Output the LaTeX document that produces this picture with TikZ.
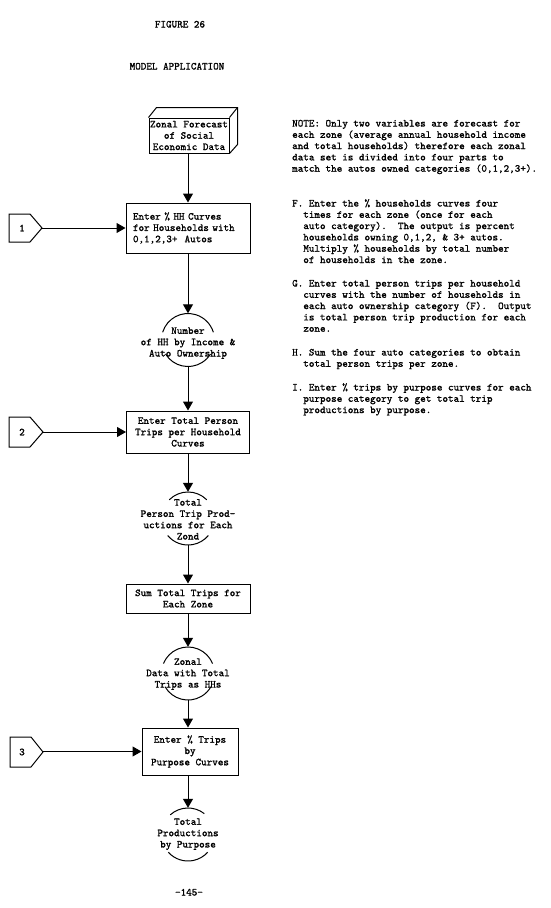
\documentclass[tikz,border=0pt]{standalone}
\usepackage{fontspec}
\setmonofont{Latin Modern Mono}[RawFeature={embolden=1.2}]
\usetikzlibrary{arrows.meta,calc}
\frenchspacing
\newcommand\hin{\hphantom{MM}}
\begin{document}
\begin{tikzpicture}[x=1pt,y=-1pt,
  every node/.style={font=\ttfamily\fontsize{10.6}{11.3}\selectfont, inner sep=0pt},
  ln/.style={line width=1pt, black},
  arr/.style={ln, -{Triangle[length=9pt,width=10pt]}},
  box/.style={draw, line width=1pt, inner sep=0pt},
  circ/.style={circle, minimum size=53pt, inner sep=0pt},
  txt/.style={anchor=base west, align=left},
]
\fill[white] (0,0) rectangle (550,908);
\useasboundingbox (0,0) rectangle (550,908);

% titles
\node[anchor=base] (t1) at (180,27.5) {FIGURE 26};
\node[anchor=base] (t2) at (177,69.5) {MODEL APPLICATION};

% 3D box
\node[box, minimum width=80pt, minimum height=35pt, align=center] (z) at (189,135.5) {Zonal Forecast\\of Social\\Economic Data};
\draw[ln] (z.north west) -- ++(8,-10) -- ($(z.north east)+(8,-10)$) -- ($(z.south east)+(8,-9)$) -- (z.south east);
\draw[ln] (z.north east) -- ++(8,-10);

% boxes
\node[box, minimum width=124pt, minimum height=50pt, text width=110pt, align=left] (b1) at (188,228) {Enter \% HH Curves\\for Households with\\0,1,2,3+~ Autos};
\node[box, minimum width=123pt, minimum height=42pt, align=center] (b2) at (188,432) {Enter Total Person\\Trips per Household\\Curves};
\node[box, minimum width=124pt, minimum height=29pt, align=center] (b3) at (188,598.5) {Sum Total Trips for\\Each Zone};
\node[box, minimum width=96pt, minimum height=47pt, align=center] (b4) at (190,751.5) {Enter \% Trips\\by\\Purpose Curves};

% circles (text node base = last line)
\node[circ] (c1) at (188,340) {};
\node[align=center, anchor=base] (c1t) at (188,356.5) {Number\\of HH by Income \&\\Auto Ownership};
\draw[ln] ($(c1)+(163:26.5pt)$) arc[start angle=163, end angle=17, radius=26.5pt];
\draw[ln] ($(c1)+(212:26.5pt)$) arc[start angle=212, end angle=328, radius=26.5pt];

\node[circ] (c2) at (188,518.5) {};
\node[align=center, anchor=base] (c2t) at (188,539.5) {Total\\Person Trip Prod-\\uctions for Each\\Zond};
\draw[ln] ($(c2)+(135:26.5pt)$) arc[start angle=135, end angle=45, radius=26.5pt];
\draw[ln] ($(c2)+(220:26.5pt)$) arc[start angle=220, end angle=320, radius=26.5pt];

\node[circ] (c3) at (188,673.5) {};
\node[align=center, anchor=base] (c3t) at (188,687.5) {Zonal\\Data with Total\\Trips as HHs};
\draw[ln] ($(c3)+(158:26.5pt)$) arc[start angle=158, end angle=22, radius=26.5pt];
\draw[ln] ($(c3)+(210:26.5pt)$) arc[start angle=210, end angle=330, radius=26.5pt];

\node[circ] (c4) at (188,834.5) {};
\node[align=center, anchor=base] (c4t) at (188,847.5) {Total\\Productions\\by Purpose};
\draw[ln] ($(c4)+(132:26.5pt)$) arc[start angle=132, end angle=52, radius=26.5pt];
\draw[ln] ($(c4)+(222:26.5pt)$) arc[start angle=222, end angle=318, radius=26.5pt];

% pentagons
\draw[ln] (9,214) -- (30,214) -- (42,228) -- (30,242) -- (9,242) -- cycle;
\node (p1) at (22,228) {1};
\coordinate (p1t) at (42,228);
\draw[ln] (9,417) -- (30,417) -- (43,432) -- (30,447) -- (9,447) -- cycle;
\node (p2) at (22,432) {2};
\coordinate (p2t) at (43,432);
\draw[ln] (10,737) -- (31,737) -- (43,752) -- (31,767) -- (10,767) -- cycle;
\node (p3) at (22,752) {3};
\coordinate (p3t) at (43,751.5);

\draw[arr] (p1t) -- (b1.west);
\draw[arr] (p2t) -- (b2.west);
\draw[arr] (p3t) -- (b4.west);

% vertical connectors
\draw[arr] (z.south -| b1.north) -- (b1.north);
\draw[arr] (b1.south) -- (c1.north);
\draw[arr] (c1.south) -- (b2.north);
\draw[arr] (b2.south) -- (c2.north);
\draw[arr] (c2.south) -- (b3.north);
\draw[arr] (b3.south) -- (c3.north);
\draw[arr] (c3.south) -- (c3.south |- b4.north);
\draw[arr] (c3.south |- b4.south) -- (c4.north);

% notes (base = last line)
\node[txt] (note) at (292,171.7) {NOTE: Only two variables are forecast for\\each zone (average annual household income\\and total households) therefore each zonal\\data set is divided into four parts to\\match the autos owned categories (0,1,2,3+).};
\node[txt] (nf) at (292,263) {F. Enter the \% households curves four\\\hin times for each zone (once for each\\\hin auto category).~ The output is percent\\\hin households owning 0,1,2, \& 3+ autos.\\\hin Multiply \% households by total number\\\hin of households in the zone.};
\node[txt] (ng) at (292,331.7) {G. Enter total person trips per household\\\hin curves with the number of households in\\\hin each auto ownership category (F).~ Output\\\hin is total person trip production for each\\\hin zone.};
\node[txt] (nh) at (292,366.8) {H. Sum the four auto categories to obtain\\\hin total person trips per zone.};
\node[txt] (ni) at (292,413.1) {I. Enter \% trips by purpose curves for each\\\hin purpose category to get total trip\\\hin productions by purpose.};

\node[anchor=base] (pg) at (189,895.5) {-145-};
\end{tikzpicture}
\end{document}
